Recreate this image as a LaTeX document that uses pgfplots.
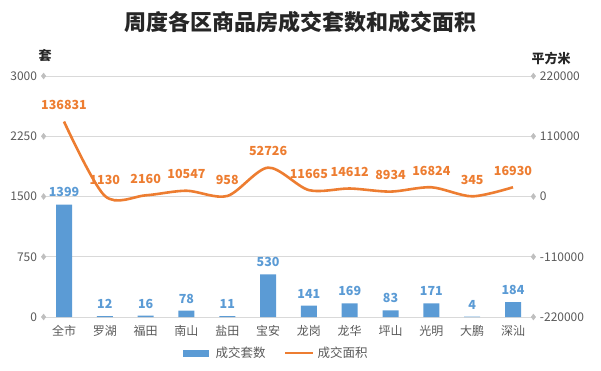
\documentclass[border=0pt]{standalone}
\usepackage{fontspec}
\setmainfont{Noto Sans CJK SC}
\usepackage{pgfplots}
\usepackage{pgfplotstable}
\pgfplotsset{compat=1.18}
\definecolor{barblue}{HTML}{5B9BD5}
\definecolor{lineorange}{HTML}{ED7D31}
\definecolor{tickgray}{HTML}{595959}
\definecolor{gridgray}{HTML}{D9D9D9}
\definecolor{diagray}{HTML}{BFBFBF}
\pgfplotstableread{
x y lab
0 1399 1399
1 12 12
2 16 16
3 78 78
4 11 11
5 530 530
6 141 141
7 169 169
8 83 83
9 171 171
10 4 4
11 184 184
}\bars
\pgfplotstableread{
x y lab
0 136831 136831
1 1130 1130
2 2160 2160
3 10547 10547
4 958 958
5 52726 52726
6 11665 11665
7 14612 14612
8 8934 8934
9 16824 16824
10 345 345
11 16930 16930
}\area
\begin{document}
\begin{tikzpicture}
\pgfplotsset{common/.style={
  at={(0pt,0pt)}, anchor=south west, width=489.8pt, height=241pt, scale only axis,
  xmin=-0.5, xmax=11.5, clip=false,
  axis line style={draw=none}, major tick length=0pt,
  scaled y ticks=false,
  /pgf/number format/assume math mode=true,
  /pgf/number format/1000 sep={},
  tick label style={font=\fontsize{12}{12}\selectfont, text=tickgray},
}}
\begin{axis}[common,
  ymin=0, ymax=3000, ytick={0,750,1500,2250,3000},
  yticklabels={0,750,1500,2250,3000},
  ymajorgrids, grid style={gridgray, line width=1pt},
  xtick={0,...,11},
  xticklabels={全市,罗湖,福田,南山,盐田,宝安,龙岗,龙华,坪山,光明,大鹏,深汕},
  xticklabel style={yshift=-5pt},
  yticklabel style={xshift=-3pt},
]
\addplot[ybar, bar width=16pt, fill=barblue, draw=none,
  point meta=explicit symbolic,
  nodes near coords,
  nodes near coords style={font=\fontsize{12.5}{12.5}\selectfont\bfseries, text=barblue, anchor=south, yshift=4pt}]
  table[x=x, y=y, meta=lab] {\bars};
\addplot[only marks, mark=diamond*, mark size=3pt, color=diagray]
  coordinates {(-0.5,0)(-0.5,750)(-0.5,1500)(-0.5,2250)(-0.5,3000)
               (11.5,0)(11.5,750)(11.5,1500)(11.5,2250)(11.5,3000)};
\end{axis}
\begin{axis}[common,
  ymin=-220000, ymax=220000,
  ytick={-220000,-110000,0,110000,220000},
  yticklabels={-220000,-110000,0,110000,220000},
  yticklabel pos=right,
  yticklabel style={xshift=3pt},
  xtick=\empty,
]
\addplot[lineorange, line width=2.6pt, smooth, tension=0.5,
  point meta=explicit symbolic,
  nodes near coords,
  nodes near coords style={font=\fontsize{12.5}{12.5}\selectfont\bfseries, text=lineorange, anchor=south, yshift=7pt}]
  table[x=x, y=y, meta=lab] {\area};
\end{axis}
\begin{scope}[x=1pt, y=1pt, shift={(-43.6pt,-53pt)}]
\node[font=\fontsize{22}{22}\selectfont\bfseries, text=black!85] at (300,348) {周度各区商品房成交套数和成交面积};
\node[font=\fontsize{13}{13}\selectfont\bfseries, text=black!85] at (45,314) {套};
\node[font=\fontsize{13}{13}\selectfont\bfseries, text=black!85] at (551,312) {平方米};
\fill[barblue] (183,13) rectangle (209,20);
\node[anchor=west, font=\fontsize{12.5}{12.5}\selectfont, text=tickgray] at (212,17) {成交套数};
\draw[lineorange, line width=2.6pt] (285,17) -- (313,17);
\node[anchor=west, font=\fontsize{12.5}{12.5}\selectfont, text=tickgray] at (314,17) {成交面积};
\pgfresetboundingbox
\path[use as bounding box] (0,0) rectangle (601,370);
\end{scope}
\end{tikzpicture}
\end{document}
